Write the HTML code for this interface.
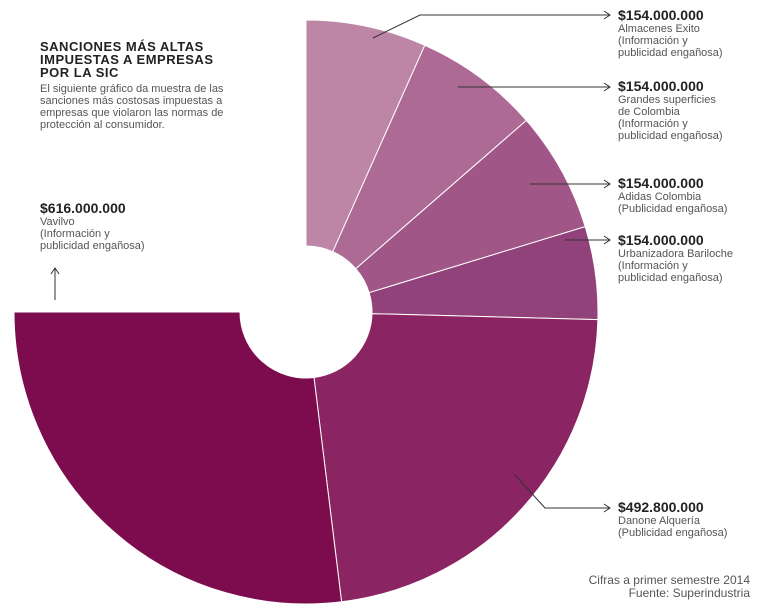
<!DOCTYPE html>
<html><head><meta charset="utf-8"><style>
body{margin:0;background:#fff;width:760px;height:613px;overflow:hidden;font-family:"Liberation Sans",sans-serif;}
svg{position:absolute;left:0;top:0}
.t{position:absolute;color:#555;font-size:11px;line-height:12px;}
.t b{color:#222;font-size:14px;display:block;line-height:15px;}
</style></head><body>
<svg width="760" height="613">
<g stroke="#fff" stroke-width="1">
<path d="M306,20 A292,292 0 0 1 424.8,45.3 L332.8,251.7 A66,66 0 0 0 306,246Z" fill="#bd85a6"/>
<path d="M424.8,45.3 A292,292 0 0 1 526.4,120.4 L355.8,268.7 A66,66 0 0 0 332.8,251.7Z" fill="#ad6a95"/>
<path d="M526.4,120.4 A292,292 0 0 1 585.2,226.6 L369.1,292.7 A66,66 0 0 0 355.8,268.7Z" fill="#a05686"/>
<path d="M585.2,226.6 A292,292 0 0 1 597.9,319.6 L372,313.7 A66,66 0 0 0 369.1,292.7Z" fill="#92427a"/>
<path d="M597.9,319.6 A292,292 0 0 1 341.6,601.8 L314,377.5 A66,66 0 0 0 372,313.7Z" fill="#8a2463"/>
<path d="M341.6,601.8 A292,292 0 0 1 14,312 L240,312 A66,66 0 0 0 314,377.5Z" fill="#7d0c4f"/>
</g>
<g stroke="#333" stroke-width="1" fill="none">
<polyline points="373,38 420,15 610,15"/><path d="M604,11 L610,15 L604,19"/>
<line x1="458" y1="87" x2="610" y2="87"/><path d="M604,83 L610,87 L604,91"/>
<line x1="530" y1="184" x2="610" y2="184"/><path d="M604,180 L610,184 L604,188"/>
<polyline points="565,240 580,240 610,240"/><path d="M604,236 L610,240 L604,244"/>
<polyline points="515,475 545,508 610,508"/><path d="M604,504 L610,508 L604,512"/>
<line x1="55" y1="300" x2="55" y2="268"/><path d="M51,274 L55,268 L59,274"/>
</g>
</svg>
<div class="t" style="left:40px;top:40px;color:#222;font-weight:bold;font-size:13px;line-height:13px;letter-spacing:0.5px">SANCIONES MÁS ALTAS<br>IMPUESTAS A EMPRESAS<br>POR LA SIC</div>
<div class="t" style="left:40px;top:83px;">El siguiente gráfico da muestra de las<br>sanciones más costosas impuestas a<br>empresas que violaron las normas de<br>protección al consumidor.</div>
<div class="t" style="left:40px;top:201px;"><b>$616.000.000</b>Vavilvo<br>(Información y<br>publicidad engañosa)</div>
<div class="t" style="left:618px;top:8px;"><b>$154.000.000</b>Almacenes Exito<br>(Información y<br>publicidad engañosa)</div>
<div class="t" style="left:618px;top:79px;"><b>$154.000.000</b>Grandes superficies<br>de Colombia<br>(Información y<br>publicidad engañosa)</div>
<div class="t" style="left:618px;top:176px;"><b>$154.000.000</b>Adidas Colombia<br>(Publicidad engañosa)</div>
<div class="t" style="left:618px;top:233px;"><b>$154.000.000</b>Urbanizadora Bariloche<br>(Información y<br>publicidad engañosa)</div>
<div class="t" style="left:618px;top:500px;"><b>$492.800.000</b>Danone Alquería<br>(Publicidad engañosa)</div>
<div class="t" style="right:10px;top:574px;text-align:right;font-size:12px;line-height:13px;">Cifras a primer semestre 2014<br>Fuente: Superindustria</div>
</body></html>
